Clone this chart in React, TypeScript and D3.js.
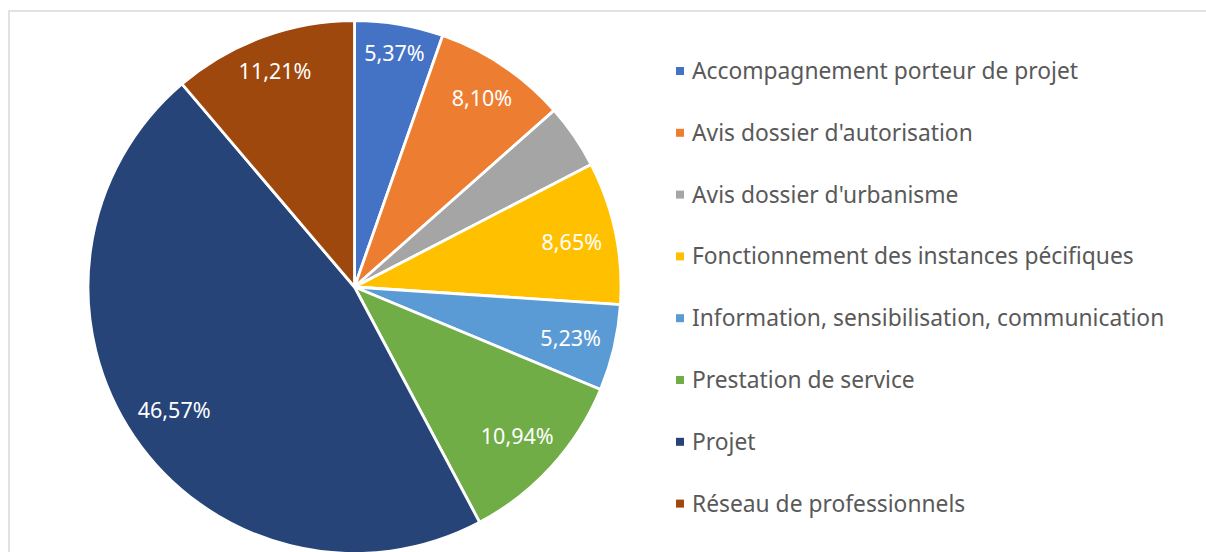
import React from "react";
import * as d3 from "d3";

const categories: string[] = [
  "Accompagnement porteur de projet",
  "Avis dossier d'autorisation",
  "Avis dossier d'urbanisme",
  "Fonctionnement des instances pécifiques",
  "Information, sensibilisation, communication",
  "Prestation de service",
  "Projet",
  "Réseau de professionnels",
];
const values: number[] = [5.37, 8.1, 3.93, 8.65, 5.23, 10.94, 46.57, 11.21];
const showLabel: boolean[] = [true, true, false, true, true, true, true, true];
const colors: string[] = [
  "#4472C4",
  "#ED7D31",
  "#A5A5A5",
  "#FFC000",
  "#5B9BD5",
  "#70AD47",
  "#264478",
  "#9E480E",
];

const W = 1206;
const H = 552;
const FONT = "'Noto Sans', sans-serif";

function fmt(v: number) {
  return v.toFixed(2).replace(".", ",") + "%";
}

export default function App() {
  const cx = 354.5;
  const cy = 287;
  const r = 266.5;
  const pie = d3
    .pie<number>()
    .sort(null)
    .value((d) => d);
  const arcs = pie(values);
  const arcGen = d3.arc<d3.PieArcDatum<number>>().innerRadius(0).outerRadius(r);

  // inside-end label placement
  const labelPos = (a: d3.PieArcDatum<number>, text: string) => {
    const mid = (a.startAngle + a.endAngle) / 2;
    const dx = Math.sin(mid);
    const dy = -Math.cos(mid);
    const hw = text.length * 6;
    const hh = 9;
    const lim = r - 13;
    let rl = lim;
    for (let t = lim; t > 0; t -= 0.5) {
      const x = t * dx;
      const y = t * dy;
      const far = Math.max(
        Math.hypot(x + hw, y + hh),
        Math.hypot(x - hw, y + hh),
        Math.hypot(x + hw, y - hh),
        Math.hypot(x - hw, y - hh)
      );
      if (far <= lim) {
        rl = t;
        break;
      }
    }
    return [rl * dx, rl * dy];
  };

  const legendX = 676;
  const legendY0 = 79;
  const legendStep = 61.8;

  return (
    <svg
      width={W}
      height={H}
      style={{ position: "absolute", left: 0, top: 0, background: "#fff" }}
    >
      <rect x={9} y={11} width={1300} height={700} fill="#fff" stroke="#d9d9d9" strokeWidth={1.5} />
      <g transform={`translate(${cx},${cy})`}>
        {arcs.map((a, i) => (
          <path key={i} d={arcGen(a) || ""} fill={colors[i]} stroke="#fff" strokeWidth={2.8} strokeLinejoin="round" />
        ))}
        {arcs.map((a, i) => {
          if (!showLabel[i]) return null;
          const t = fmt(values[i]);
          const [x, y] = labelPos(a, t);
          return (
            <text
              key={"l" + i}
              x={x}
              y={y}
              textAnchor="middle"
              dominantBaseline="central"
              fill="#fff"
              fontFamily={FONT}
              fontSize={21.5}
            >
              {t}
            </text>
          );
        })}
      </g>
      {categories.map((c, i) => {
        const by = legendY0 + i * legendStep;
        return (
          <g key={"g" + i}>
            <rect x={legendX} y={by - 12} width={8} height={8} fill={colors[i]} />
            <text x={legendX + 16} y={by} fill="#595959" fontFamily={FONT} fontSize={22.8}>
              {c}
            </text>
          </g>
        );
      })}
    </svg>
  );
}
